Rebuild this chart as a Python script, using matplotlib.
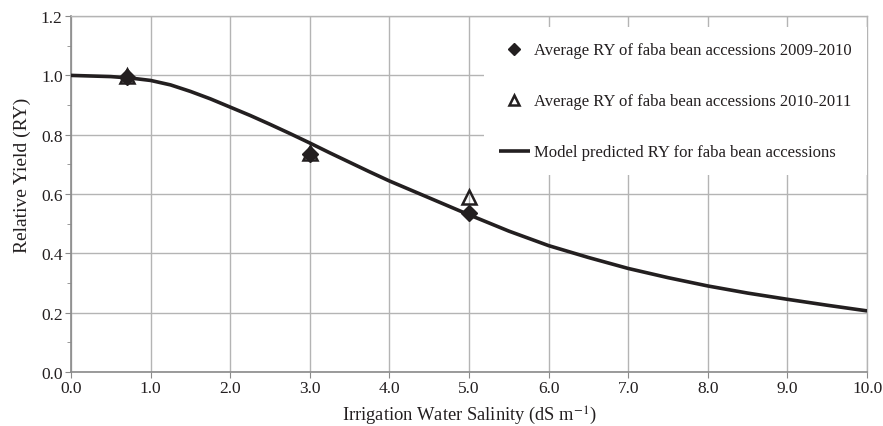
import matplotlib
matplotlib.use("Agg")
import matplotlib.pyplot as plt
from matplotlib.ticker import MultipleLocator

plt.rcParams['font.family'] = ['Liberation Serif', 'DejaVu Serif']
plt.rcParams['mathtext.fontset'] = 'stix'

# Observed data
x_obs = [0.7, 3.0, 5.0]
ry_2009 = [0.995, 0.735, 0.535]
ry_2010 = [0.997, 0.738, 0.590]

# Model curve values
x_model = [0.0, 0.5, 0.75, 1.0, 1.25, 1.5, 1.75, 2.0, 2.25, 2.5, 2.75, 3.0, 3.25, 3.5,
           3.75, 4.0, 4.5, 5.0, 5.5, 6.0, 6.5, 7.0, 7.5, 8.0, 8.5, 9.0, 9.5, 10.0]
ry_model = [1.000, 0.996, 0.991, 0.983, 0.968, 0.946, 0.921, 0.893, 0.865, 0.835,
            0.804, 0.772, 0.739, 0.707, 0.675, 0.644, 0.587, 0.530, 0.475, 0.426,
            0.386, 0.349, 0.318, 0.290, 0.266, 0.245, 0.225, 0.206]

labels = ["Average RY of faba bean accessions 2009-2010",
          "Average RY of faba bean accessions 2010-2011",
          "Model predicted RY for faba bean accessions"]

txt = '#231f20'
fig = plt.figure(figsize=(8.83, 4.27), dpi=100)
ax = fig.add_axes([0.0804, 0.1265, 0.9016, 0.8335])

ax.plot(x_model, ry_model, color='#231f20', lw=2.6, zorder=3, label=labels[2],
        solid_capstyle='butt', solid_joinstyle='round')
ax.plot(x_obs, ry_2009, linestyle='none', marker='D', markersize=8,
        color='#231f20', zorder=4, label=labels[0])
ax.plot(x_obs, ry_2010, linestyle='none', marker='^', markersize=10,
        markerfacecolor='none', markeredgecolor='#231f20', markeredgewidth=1.8,
        zorder=5, label=labels[1])

ax.set_xlim(0, 10)
ax.set_ylim(0, 1.2)
ax.xaxis.set_major_locator(MultipleLocator(1.0))
ax.yaxis.set_major_locator(MultipleLocator(0.2))
ax.yaxis.set_minor_locator(MultipleLocator(0.1))
ax.set_xticklabels([f"{v:.1f}" for v in ax.get_xticks()])
ax.set_yticklabels([f"{v:.1f}" for v in ax.get_yticks()])
ax.grid(True, which='major', color='#b4b4b4', lw=1.0, zorder=0)
ax.set_axisbelow(True)

for s in ['left', 'bottom']:
    ax.spines[s].set_color('#8a8a8a')
    ax.spines[s].set_linewidth(1.2)
for s in ['top', 'right']:
    ax.spines[s].set_color('#b4b4b4')
    ax.spines[s].set_linewidth(1.0)

ax.tick_params(axis='both', which='major', direction='out', length=4,
               color='#8a8a8a', labelsize=12.5, labelcolor=txt, pad=2)
ax.tick_params(axis='y', which='minor', direction='out', length=3, color='#8a8a8a')

ax.set_xlabel("Irrigation Water Salinity (dS m$^{-1}$)", fontsize=13.3, color=txt, labelpad=5.5)
ax.set_ylabel("Relative Yield (RY)", fontsize=14, color=txt)
ax.yaxis.set_label_coords(-0.050, 0.556)

h, l = ax.get_legend_handles_labels()
order = [1, 2, 0]
leg = ax.legend([h[i] for i in order], [l[i] for i in order],
                loc='upper right', bbox_to_anchor=(1.0, 0.968),
                borderaxespad=0, frameon=True, fancybox=False,
                facecolor='white', edgecolor='none', framealpha=1,
                fontsize=12, labelspacing=2.1, handlelength=1.9,
                handletextpad=0.25, borderpad=0.9, markerscale=0.75)
for t in leg.get_texts():
    t.set_color(txt)
leg.set_zorder(6)

fig.savefig("out.png", dpi=100)
